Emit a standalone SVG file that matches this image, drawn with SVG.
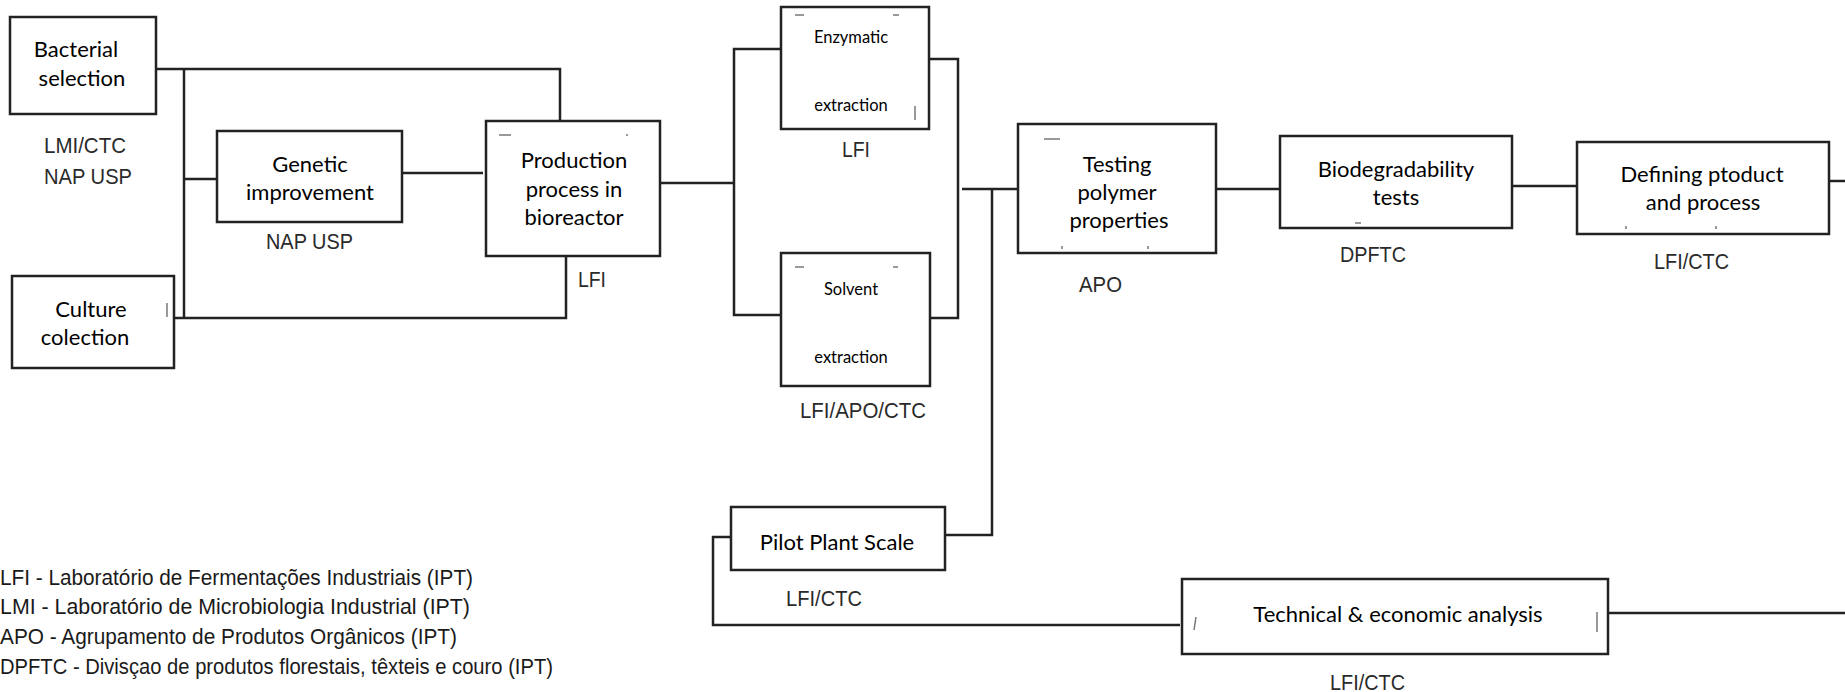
<svg xmlns="http://www.w3.org/2000/svg" width="1845" height="692" viewBox="0 0 1845 692">
  <style>
    .box { fill: #fff; stroke: #222; stroke-width: 2.5; }
    .wire { fill: none; stroke: #222; stroke-width: 2.5; }
    .t { font-family: Lato, "Open Sans", sans-serif; font-size: 22px; fill: #000; text-anchor: middle; }
    .ts { font-family: Lato, "Open Sans", sans-serif; font-size: 16.5px; fill: #000; text-anchor: middle; }
    .lbl { font-family: "Liberation Sans", Arial, sans-serif; font-size: 22.5px; fill: #2a2a2a; }
    .leg { font-family: "Liberation Sans", Arial, sans-serif; font-size: 22px; fill: #1a1a1a; }
    .tick { stroke: #777; stroke-width: 1.5; fill: none; }
  </style>

  <rect width="1845" height="692" fill="#fff"/>

  <!-- connectors -->
  <g id="connectors" class="wire">
    <!-- bacterial selection / culture collection bus -->
    <polyline points="156,69 560,69 560,121"/>
    <line x1="184" y1="69" x2="184" y2="318"/>
    <line x1="184" y1="179" x2="217" y2="179"/>
    <polyline points="174,318 566,318 566,256"/>
    <line x1="402" y1="173" x2="483" y2="173"/>
    <!-- bioreactor to extraction branches -->
    <line x1="660" y1="183" x2="734" y2="183"/>
    <polyline points="781,49 734,49 734,315 781,315"/>
    <polyline points="929,59 958,59 958,318 930,318"/>
    <!-- extraction to polymer testing -->
    <line x1="962" y1="189" x2="1018" y2="189"/>
    <polyline points="992,189 992,535 945,535"/>
    <line x1="1216" y1="189" x2="1280" y2="189"/>
    <line x1="1512" y1="186" x2="1577" y2="186"/>
    <line x1="1829" y1="181" x2="1845" y2="181"/>
    <!-- pilot plant to techno-economic analysis -->
    <polyline points="731,537 713,537 713,625 1180,625"/>
    <line x1="1608" y1="613" x2="1845" y2="613"/>
  </g>

  <!-- nodes -->
  <g id="bacterial-selection">
    <rect class="box" x="10" y="17" width="146" height="97"/>
    <text class="t" x="76" y="57">Bacterial</text>
    <text class="t" x="82" y="86">selection</text>
    <text class="lbl" x="44" y="153" textLength="82" lengthAdjust="spacingAndGlyphs">LMI/CTC</text>
    <text class="lbl" x="44" y="184" textLength="88" lengthAdjust="spacingAndGlyphs">NAP USP</text>
  </g>

  <g id="genetic-improvement">
    <rect class="box" x="217" y="131" width="185" height="91"/>
    <text class="t" x="310" y="172">Genetic</text>
    <text class="t" x="310" y="200">improvement</text>
    <text class="lbl" x="266" y="249" textLength="87" lengthAdjust="spacingAndGlyphs">NAP USP</text>
  </g>

  <g id="culture-collection">
    <rect class="box" x="12" y="276" width="162" height="92"/>
    <text class="t" x="91" y="317">Culture</text>
    <text class="t" x="85" y="345">colection</text>
    <line class="tick" x1="167" y1="303" x2="167" y2="317"/>
  </g>

  <g id="bioreactor">
    <rect class="box" x="486" y="121" width="174" height="135"/>
    <text class="t" x="574" y="168">Production</text>
    <text class="t" x="574" y="197">process in</text>
    <text class="t" x="574" y="225">bioreactor</text>
    <line class="tick" x1="499" y1="135" x2="511" y2="135"/>
    <line class="tick" x1="626" y1="135" x2="628" y2="135"/>
    <text class="lbl" x="578" y="287" textLength="28" lengthAdjust="spacingAndGlyphs">LFI</text>
  </g>

  <g id="enzymatic-extraction">
    <rect class="box" x="781" y="7" width="148" height="122"/>
    <text class="ts" x="851" y="43">Enzymatic</text>
    <text class="ts" x="851" y="111">extraction</text>
    <line class="tick" x1="795" y1="15" x2="804" y2="15"/>
    <line class="tick" x1="893" y1="15" x2="899" y2="15"/>
    <line class="tick" x1="915" y1="106" x2="915" y2="120"/>
    <text class="lbl" x="842" y="157" textLength="28" lengthAdjust="spacingAndGlyphs">LFI</text>
  </g>

  <g id="solvent-extraction">
    <rect class="box" x="781" y="253" width="149" height="133"/>
    <text class="ts" x="851" y="295">Solvent</text>
    <text class="ts" x="851" y="363">extraction</text>
    <line class="tick" x1="795" y1="267" x2="804" y2="267"/>
    <line class="tick" x1="893" y1="267" x2="898" y2="267"/>
    <text class="lbl" x="800" y="418" textLength="126" lengthAdjust="spacingAndGlyphs">LFI/APO/CTC</text>
  </g>

  <g id="polymer-testing">
    <rect class="box" x="1018" y="124" width="198" height="129"/>
    <text class="t" x="1117" y="172">Testing</text>
    <text class="t" x="1117" y="200">polymer</text>
    <text class="t" x="1119" y="228">properties</text>
    <line class="tick" x1="1044" y1="139" x2="1060" y2="139"/>
    <line class="tick" x1="1062" y1="246" x2="1062" y2="249"/>
    <line class="tick" x1="1148" y1="246" x2="1148" y2="249"/>
    <text class="lbl" x="1079" y="292" textLength="43" lengthAdjust="spacingAndGlyphs">APO</text>
  </g>

  <g id="biodegradability">
    <rect class="box" x="1280" y="136" width="232" height="92"/>
    <text class="t" x="1396" y="177">Biodegradability</text>
    <text class="t" x="1396" y="205">tests</text>
    <line class="tick" x1="1355" y1="223" x2="1361" y2="223"/>
    <text class="lbl" x="1340" y="262" textLength="66" lengthAdjust="spacingAndGlyphs">DPFTC</text>
  </g>

  <g id="product-definition">
    <rect class="box" x="1577" y="142" width="252" height="92"/>
    <text class="t" x="1702" y="182">Defining ptoduct</text>
    <text class="t" x="1703" y="210">and process</text>
    <line class="tick" x1="1626" y1="226" x2="1626" y2="229"/>
    <line class="tick" x1="1716" y1="226" x2="1716" y2="229"/>
    <text class="lbl" x="1654" y="269" textLength="75" lengthAdjust="spacingAndGlyphs">LFI/CTC</text>
  </g>

  <g id="pilot-plant">
    <rect class="box" x="731" y="507" width="214" height="63"/>
    <text class="t" x="837" y="550">Pilot Plant Scale</text>
    <text class="lbl" x="786" y="606" textLength="76" lengthAdjust="spacingAndGlyphs">LFI/CTC</text>
  </g>

  <g id="techno-economic">
    <rect class="box" x="1182" y="579" width="426" height="75"/>
    <text class="t" x="1398" y="622">Technical &amp; economic analysis</text>
    <line class="tick" x1="1196" y1="617" x2="1194" y2="630"/>
    <line class="tick" x1="1597" y1="612" x2="1597" y2="632"/>
    <text class="lbl" x="1330" y="690" textLength="75" lengthAdjust="spacingAndGlyphs">LFI/CTC</text>
  </g>

  <!-- abbreviation key -->
  <g id="legend">
    <text class="leg" x="0" y="585" textLength="473" lengthAdjust="spacingAndGlyphs">LFI - Laboratório de Fermentações Industriais (IPT)</text>
    <text class="leg" x="0" y="614" textLength="470" lengthAdjust="spacingAndGlyphs">LMI - Laboratório de Microbiologia Industrial (IPT)</text>
    <text class="leg" x="0" y="644" textLength="457" lengthAdjust="spacingAndGlyphs">APO - Agrupamento de Produtos Orgânicos (IPT)</text>
    <text class="leg" x="0" y="674" textLength="553" lengthAdjust="spacingAndGlyphs">DPFTC - Divisçao de produtos florestais, têxteis e couro (IPT)</text>
  </g>
</svg>
